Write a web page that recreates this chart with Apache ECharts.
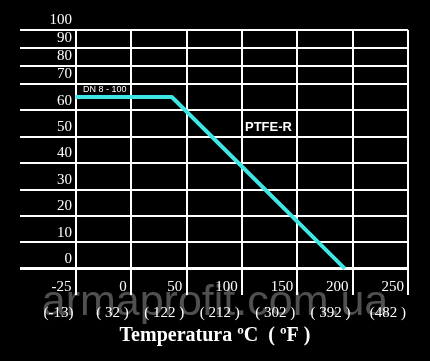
<!DOCTYPE html>
<html>
<head>
<meta charset="utf-8">
<script src="https://cdn.jsdelivr.net/npm/echarts@6/dist/echarts.min.js"></script>
<style>
html,body{margin:0;padding:0;background:#000;}
#c{width:430px;height:361px;}
</style>
</head>
<body>
<div id="c"></div>
<script>
// ---- data ----
const tempC = [-25, 37, 193];
const pressureBar = [65, 65, 0];
const xTicksC = [-25, 0, 50, 100, 150, 200, 250];
const xTicksF = ['(-13)', '( 32 )', '( 122 )', '( 212 )', '( 302 )', '( 392 )', '(482 )'];
const yTicks = [0, 10, 20, 30, 40, 50, 60, 70, 80, 90, 100];
const curveLabel = 'DN 8 - 100';
const materialLabel = 'PTFE-R';
const xTitle = 'Temperatura ºC  ( ºF )';
const watermark = 'armaprofit.com.ua';

// ---- axis mapping (chart uses a non-uniform scale) ----
const BREAK = 70, COMPRESS = 0.68;
function toU(v) { return v <= BREAK ? v : BREAK + (v - BREAK) * COMPRESS; }
function fromU(u) { return u <= BREAK ? u : BREAK + (u - BREAK) / COMPRESS; }
function toIdx(c) {
  for (let i = 0; i < xTicksC.length - 1; i++) {
    const a = xTicksC[i], b = xTicksC[i + 1];
    if (c <= b || i === xTicksC.length - 2) return i + (c - a) / (b - a);
  }
}
const yTickU = yTicks.map(toU);

const lineData = tempC.map((c, i) => [toIdx(c), toU(pressureBar[i])]);

const gridLines = [];
yTicks.forEach(v => gridLines.push({ yAxis: toU(v), lineStyle: { width: v === 0 ? 3 : 2 } }));
xTicksC.forEach((c, i) => gridLines.push({ xAxis: i }));

const chart = echarts.init(document.getElementById('c'), null, { renderer: 'canvas' });
const serif = '"Liberation Serif", "Times New Roman", serif';
const sans = '"Liberation Sans", Arial, sans-serif';

chart.setOption({
  backgroundColor: '#000',
  animation: false,
  grid: { left: 20, right: 22, top: 30, bottom: 66 },
  xAxis: [{
    type: 'value', min: -1, max: 6, interval: 1,
    axisLine: { show: false }, axisTick: { show: false }, splitLine: { show: false },
    axisLabel: {
      inside: true, margin: 8, align: 'right', verticalAlign: 'middle',
      padding: [0, 4, 0, 0],
      color: '#fff', fontFamily: serif, fontSize: 15,
      formatter: v => { const i = Math.round(v); return i >= 0 && i < xTicksC.length ? String(xTicksC[i]) : ''; }
    }
  }, {
    type: 'value', min: -1, max: 6, interval: 1, position: 'bottom',
    axisLine: { show: false }, axisTick: { show: false }, splitLine: { show: false },
    axisLabel: {
      margin: 18, align: 'right', verticalAlign: 'middle',
      padding: [0, 2, 0, 0],
      color: '#fff', fontFamily: serif, fontSize: 15,
      formatter: v => { const i = Math.round(v); return i >= 0 && i < xTicksF.length ? xTicksF[i] : ''; }
    }
  }],
  yAxis: {
    type: 'value', min: -10, max: toU(100),
    axisLine: { show: false }, axisTick: { show: false }, splitLine: { show: false },
    axisLabel: {
      inside: true, margin: 52, align: 'right', verticalAlign: 'bottom',
      lineHeight: 15, padding: [0, 0, 2, 0],
      color: '#fff', fontFamily: serif, fontSize: 15,
      customValues: yTickU,
      formatter: u => String(Math.round(fromU(u)))
    }
  },
  graphic: [
    { type: 'text', z: 0, left: 'center', top: 282,
      style: { text: watermark, font: '43px ' + sans, fill: '#505050' } },
    { type: 'text', z: 10, left: 'center', top: 326,
      style: { text: xTitle, font: 'bold 20px ' + serif, fill: '#fff' } },
    { type: 'text', z: 10, left: 83, top: 85,
      style: { text: curveLabel, font: '9px ' + sans, fill: '#fff' } },
    { type: 'text', z: 10, left: 245, top: 121,
      style: { text: materialLabel, font: 'bold 13px ' + sans, fill: '#fff' } }
  ],
  series: [{
    type: 'line', z: 10, xAxisIndex: 0, yAxisIndex: 0,
    data: lineData, symbol: 'none', silent: true,
    lineStyle: { color: '#3fe6e6', width: 4 },
    markLine: {
      z: 1, silent: true, symbol: 'none', label: { show: false },
      lineStyle: { color: '#fff', width: 2, type: 'solid' },
      data: gridLines
    }
  }]
});
</script>
</body>
</html>
